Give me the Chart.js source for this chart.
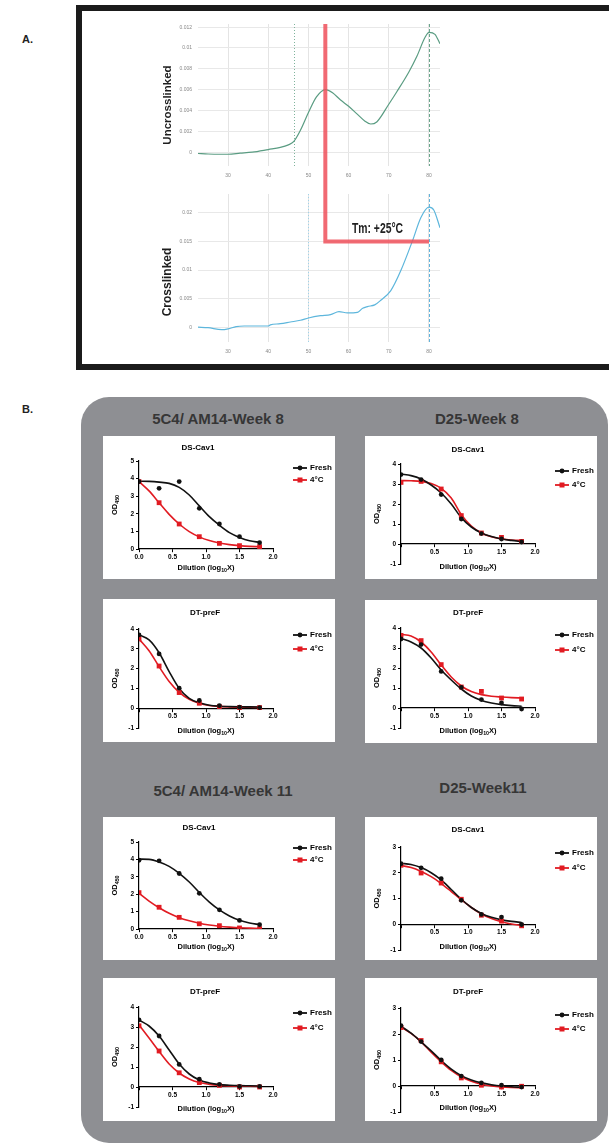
<!DOCTYPE html>
<html>
<head>
<meta charset="utf-8">
<script src="https://cdn.jsdelivr.net/npm/chart.js@4.4.0/dist/chart.umd.min.js"></script>
<style>
  body { margin: 0; width: 609px; height: 1144px; overflow: hidden; background: #fff; position: relative;
         font-family: "Liberation Sans", Arial, sans-serif; }
  .abs { position: absolute; white-space: nowrap; }
  .panel-letter { font-weight: bold; font-size: 11px; color: #222; }
  #frame { left: 76px; top: 5px; width: 600px; height: 353px; border: 6px solid #1b1b1b; }
  .rot { font-weight: bold; color: #1e1e1e; transform: translate(-50%, -50%) rotate(-90deg); }
  #tm { left: 352px; top: 221px; font-weight: bold; font-size: 14px; line-height: 14px; color: #222;
        transform: scaleX(0.74); transform-origin: left center; }
  #panelB { left: 81px; top: 397px; width: 527px; height: 746px; background: #8e8f93; border-radius: 28px; }
  .group { font-weight: bold; font-size: 15px; color: #363636; transform: translate(-50%, -50%); }
  .box { position: absolute; width: 232px; height: 143px; background: #fff; }
  canvas { display: block; }
</style>
</head>
<body>
<div class="abs panel-letter" style="left:22px;top:33px">A.</div>
<div class="abs" id="frame"></div>
<canvas class="abs" id="dscTop" width="300" height="170" style="left:150px;top:15px"></canvas>
<canvas class="abs" id="dscBottom" width="300" height="175" style="left:150px;top:185px"></canvas>
<div class="abs rot" style="left:167px;top:105px;font-size:11.5px">Uncrosslinked</div>
<div class="abs rot" style="left:167px;top:282px;font-size:12px">Crosslinked</div>
<div class="abs" id="tm">Tm: +25°C</div>

<div class="abs panel-letter" style="left:22px;top:403px">B.</div>
<div class="abs" id="panelB"></div>
<div class="abs group" style="left:218px;top:418px">5C4/ AM14-Week 8</div>
<div class="abs group" style="left:477px;top:418px">D25-Week 8</div>
<div class="abs group" style="left:223px;top:790px">5C4/ AM14-Week 11</div>
<div class="abs group" style="left:483px;top:787px">D25-Week11</div>

<script>
// ---- Panel A: DSC first derivative traces ----
const TEMP_TICKS = [30, 40, 50, 60, 70, 80];
const UNCROSS_TICKS = [0, 0.002, 0.004, 0.006, 0.008, 0.01, 0.012];
const CROSS_TICKS = [0, 0.005, 0.01, 0.015, 0.02];

const uncrossTemp = [22.5, 25, 28, 30, 33, 36, 40, 43, 45, 46.3, 48, 50, 52, 54.2, 56, 58, 60, 62, 64, 65.5, 67, 70, 72, 75, 77, 79, 80, 81.5, 82.75];
const uncrossDeriv = [-0.00013, -0.00018, -0.0002, -0.0002, -0.0001, 0, 0.00025, 0.00045, 0.0007, 0.001, 0.0021, 0.0038, 0.0053, 0.006, 0.0057, 0.005, 0.0044, 0.0037, 0.003, 0.0027, 0.0029, 0.0046, 0.0058, 0.0077, 0.0092, 0.011, 0.0115, 0.0113, 0.0104];

const crossTemp = [22.5, 25, 28.4, 30, 32, 34, 37.5, 40, 40.5, 43, 45.5, 48, 50, 53, 55.5, 57.6, 59.7, 62.2, 63.5, 64.7, 66.5, 68, 70.5, 73, 75.9, 78, 80, 81.2, 82.75];
const crossDeriv = [0, -0.0001, -0.00045, -0.0003, 0.0001, 0.0002, 0.0002, 0.0002, 0.0004, 0.0006, 0.0009, 0.0012, 0.0016, 0.002, 0.0022, 0.0027, 0.0025, 0.0026, 0.0033, 0.0036, 0.0039, 0.0047, 0.0064, 0.0099, 0.0151, 0.0192, 0.021, 0.0205, 0.0174];

const TM_UNCROSS = 54.2;
const TM_CROSS = 80;

// ---- Panel B: ELISA dilution curves (x = log10 dilution) ----
const DOSE_X = [0, 0.3, 0.6, 0.9, 1.2, 1.5, 1.8];
const CURVE_X = [0, 0.15, 0.3, 0.45, 0.6, 0.75, 0.9, 1.05, 1.2, 1.35, 1.5, 1.65, 1.8];
const LEGEND_NAMES = ['Fresh', '4°C'];

const mabW8DsFresh = [3.83, 3.45, 3.83, 2.31, 1.42, 0.70, 0.36];
const mabW8DsFreshFit = [3.85, 3.84, 3.8, 3.73, 3.5, 3.07, 2.45, 1.84, 1.35, 0.93, 0.66, 0.47, 0.38];
const mabW8DsCold = [3.83, 2.63, 1.42, 0.70, 0.32, 0.19, 0.13];
const mabW8DsColdFit = [3.83, 3.3, 2.63, 1.97, 1.42, 0.99, 0.69, 0.48, 0.34, 0.25, 0.19, 0.15, 0.13];

const d25W8DsFresh = [3.47, 3.22, 2.47, 1.25, 0.52, 0.25, 0.10];
const d25W8DsFreshFit = [3.5, 3.42, 3.25, 2.95, 2.55, 2.0, 1.32, 0.85, 0.55, 0.37, 0.25, 0.18, 0.12];
const d25W8DsCold = [3.08, 3.13, 2.75, 1.42, 0.55, 0.33, 0.13];
const d25W8DsColdFit = [3.17, 3.16, 3.13, 3.02, 2.78, 2.3, 1.47, 0.9, 0.55, 0.36, 0.26, 0.2, 0.17];

const mabW8DtFresh = [3.70, 2.74, 1.01, 0.39, 0.13, 0.05, 0.03];
const mabW8DtFreshFit = [3.7, 3.45, 2.8, 1.85, 1.0, 0.5, 0.27, 0.15, 0.1, 0.08, 0.07, 0.065, 0.06];
const mabW8DtCold = [3.5, 2.13, 0.79, 0.25, 0.08, 0.03, 0.03];
const mabW8DtColdFit = [3.5, 2.9, 2.1, 1.35, 0.8, 0.45, 0.25, 0.14, 0.09, 0.065, 0.05, 0.045, 0.04];

const d25W8DtFresh = [3.45, 3.17, 1.83, 1.03, 0.42, 0.25, -0.05];
const d25W8DtFreshFit = [3.48, 3.3, 3.0, 2.5, 1.9, 1.4, 0.95, 0.6, 0.38, 0.25, 0.17, 0.12, 0.09];
const d25W8DtCold = [3.63, 3.37, 2.17, 1.05, 0.83, 0.5, 0.45];
const d25W8DtColdFit = [3.68, 3.6, 3.3, 2.8, 2.15, 1.55, 1.1, 0.82, 0.67, 0.59, 0.55, 0.52, 0.5];

const mabW11DsFresh = [3.95, 3.92, 3.19, 2.05, 1.10, 0.49, 0.25];
const mabW11DsFreshFit = [4.02, 4.0, 3.85, 3.6, 3.2, 2.7, 2.1, 1.55, 1.1, 0.75, 0.5, 0.35, 0.25];
const mabW11DsCold = [2.09, 1.25, 0.67, 0.30, 0.19, 0.06, 0.02];
const mabW11DsColdFit = [2.05, 1.6, 1.22, 0.9, 0.65, 0.47, 0.33, 0.23, 0.16, 0.11, 0.07, 0.05, 0.03];

const d25W11DsFresh = [2.35, 2.19, 1.77, 0.93, 0.38, 0.28, -0.01];
const d25W11DsFreshFit = [2.37, 2.32, 2.2, 2.0, 1.72, 1.35, 0.97, 0.65, 0.42, 0.27, 0.17, 0.11, 0.07];
const d25W11DsCold = [2.29, 1.99, 1.6, 0.97, 0.35, 0.12, -0.06];
const d25W11DsColdFit = [2.28, 2.2, 2.05, 1.85, 1.58, 1.27, 0.95, 0.65, 0.4, 0.22, 0.1, 0.01, -0.05];

const mabW11DtFresh = [3.36, 2.55, 1.13, 0.39, 0.13, 0.03, 0.03];
const mabW11DtFreshFit = [3.35, 3.05, 2.55, 1.85, 1.15, 0.65, 0.35, 0.2, 0.12, 0.09, 0.07, 0.06, 0.05];
const mabW11DtCold = [3.06, 1.80, 0.71, 0.22, 0.08, 0.0, 0.0];
const mabW11DtColdFit = [3.1, 2.45, 1.78, 1.15, 0.7, 0.4, 0.22, 0.13, 0.08, 0.055, 0.04, 0.035, 0.03];

const d25W11DtFresh = [2.32, 1.71, 1.0, 0.38, 0.12, 0.03, -0.04];
const d25W11DtFreshFit = [2.3, 2.03, 1.7, 1.35, 0.98, 0.65, 0.4, 0.23, 0.12, 0.05, 0.0, -0.03, -0.05];
const d25W11DtCold = [2.25, 1.75, 0.93, 0.31, 0.03, -0.04, -0.01];
const d25W11DtColdFit = [2.27, 2.02, 1.7, 1.3, 0.93, 0.6, 0.35, 0.18, 0.07, 0.0, -0.04, -0.06, -0.07];

const FONT = '"Liberation Sans", Arial, sans-serif';
const BLACK = '#111111';
const RED = '#e11b22';
const TM_RED = 'rgba(238, 80, 90, 0.85)';

// --- DSC plugin: dashed marker lines + the Tm shift bracket ---
const dscMarks = {
    id: 'dscMarks',
    beforeDatasetsDraw(chart, args, opts) {
        const { ctx, chartArea: a, scales: { x } } = chart;
        (opts.marks || []).forEach(m => {
            const px = Math.round(x.getPixelForValue(m.x)) + 0.5;
            ctx.save();
            ctx.strokeStyle = m.color;
            ctx.lineWidth = 1;
            ctx.setLineDash(m.dash);
            ctx.beginPath();
            ctx.moveTo(px, a.top);
            ctx.lineTo(px, a.bottom);
            ctx.stroke();
            ctx.restore();
        });
    },
    afterDatasetsDraw(chart, args, opts) {
        const tm = opts.tm;
        if (!tm) return;
        const { ctx, chartArea: a, scales: { x, y } } = chart;
        const px = x.getPixelForValue(tm.from);
        ctx.save();
        ctx.strokeStyle = TM_RED;
        ctx.lineWidth = 4;
        ctx.lineJoin = 'miter';
        ctx.beginPath();
        if (tm.level === undefined) {
            // top chart: the bracket starts at the plot top and runs off the bottom edge
            ctx.moveTo(px, a.top);
            ctx.lineTo(px, chart.height);
        } else {
            const py = y.getPixelForValue(tm.level);
            ctx.moveTo(px, 0);
            ctx.lineTo(px, py);
            ctx.lineTo(x.getPixelForValue(tm.to), py);
        }
        ctx.stroke();
        ctx.restore();
    }
};

const dscChart = (canvasId, temps, values, color, yTicks, yMin, yMax, xAxisH, marks, tm) => {
    const tickFont = { family: FONT, size: 5 };
    new Chart(document.getElementById(canvasId), {
        type: 'line',
        data: {
            datasets: [{
                data: temps.map((t, i) => ({ x: t, y: values[i] })),
                borderColor: color,
                borderWidth: 1.2,
                pointRadius: 0,
                cubicInterpolationMode: 'monotone'
            }]
        },
        options: {
            responsive: false,
            animation: false,
            devicePixelRatio: 1,
            events: [],
            layout: { padding: { left: 0, right: 10, top: 8, bottom: 0 } },
            plugins: { legend: { display: false }, tooltip: { enabled: false }, dscMarks: { marks, tm } },
            scales: {
                x: {
                    type: 'linear', min: 22.5, max: 82.75,
                    afterBuildTicks: s => { s.ticks = TEMP_TICKS.map(v => ({ value: v })); },
                    afterFit: s => { s.height = xAxisH; },
                    grid: { color: '#e4e4e4', lineWidth: 1, drawTicks: false },
                    border: { display: false },
                    ticks: { font: tickFont, color: '#888', padding: 7, maxRotation: 0 }
                },
                y: {
                    type: 'linear', min: yMin, max: yMax,
                    afterBuildTicks: s => { s.ticks = yTicks.map(v => ({ value: v })); },
                    afterFit: s => { s.width = 48; },
                    grid: { color: '#e8e8e8', lineWidth: 1, drawTicks: false },
                    border: { display: false },
                    ticks: { font: tickFont, color: '#888', padding: 6, callback: v => String(+v.toFixed(4)) }
                }
            }
        },
        plugins: [dscMarks]
    });
};

dscChart('dscTop', uncrossTemp, uncrossDeriv, '#5a9c82', UNCROSS_TICKS, -0.00133, 0.0123, 19,
    [{ x: 46.3, color: '#7fb39c', dash: [1, 2] }, { x: 80, color: '#6aa68c', dash: [3, 2] }],
    { from: TM_UNCROSS });
dscChart('dscBottom', crossTemp, crossDeriv, '#5db6dc', CROSS_TICKS, -0.0026, 0.0233, 18,
    [{ x: 50, color: '#9fd3ea', dash: [1, 2] }, { x: 80, color: '#62b4dc', dash: [3, 2] }],
    { from: TM_UNCROSS, to: TM_CROSS, level: 0.015 });

// --- GraphPad style text: title, axis titles with subscripts, legend ---
const drawRuns = (ctx, runs, cx, cy, size) => {
    const normal = `bold ${size}px ${FONT}`;
    const small = `bold ${size * 0.7}px ${FONT}`;
    let total = 0;
    runs.forEach(r => { ctx.font = r.sub ? small : normal; total += ctx.measureText(r.t).width; });
    let xPos = cx - total / 2;
    ctx.textAlign = 'left';
    ctx.textBaseline = 'middle';
    runs.forEach(r => {
        ctx.font = r.sub ? small : normal;
        ctx.fillText(r.t, xPos, cy + (r.sub ? size * 0.3 : 0));
        xPos += ctx.measureText(r.t).width;
    });
};

const gpText = {
    id: 'gpText',
    afterDraw(chart, args, o) {
        const { ctx, chartArea: a, scales: { y } } = chart;
        ctx.save();
        ctx.fillStyle = '#000';
        ctx.textAlign = 'center';
        ctx.textBaseline = 'middle';
        ctx.font = `bold 8px ${FONT}`;
        ctx.fillText(o.title, o.titleX, o.titleY);

        drawRuns(ctx, [{ t: 'Dilution (log' }, { t: '10', sub: true }, { t: 'X)' }],
            (a.left + a.right) / 2, y.getPixelForValue(0) + o.xLabelDy, 7.5);

        ctx.save();
        ctx.translate(12, (a.top + a.bottom) / 2);
        ctx.rotate(-Math.PI / 2);
        drawRuns(ctx, [{ t: 'OD' }, { t: '450', sub: true }], 0, 0, 7.5);
        ctx.restore();

        // legend: line with marker, then name
        chart.data.datasets.slice(0, 2).forEach((ds, i) => {
            const ly = o.legendTop + i * o.legendGap;
            ctx.strokeStyle = ds.backgroundColor;
            ctx.fillStyle = ds.backgroundColor;
            ctx.lineWidth = 1.8;
            ctx.beginPath();
            ctx.moveTo(190, ly);
            ctx.lineTo(204, ly);
            ctx.stroke();
            if (ds.pointStyle === 'rect') {
                ctx.fillRect(194.5, ly - 2.5, 5, 5);
            } else {
                ctx.beginPath();
                ctx.arc(197, ly, 2.4, 0, Math.PI * 2);
                ctx.fill();
            }
            ctx.fillStyle = '#000';
            ctx.font = `bold 8px ${FONT}`;
            ctx.textAlign = 'left';
            ctx.fillText(LEGEND_NAMES[i], 207, ly);
        });
        ctx.restore();
    }
};

const BOX_W = 232, BOX_H = 143;

const dilutionChart = (box) => {
    const wrap = document.createElement('div');
    wrap.className = 'box';
    wrap.style.left = box.left + 'px';
    wrap.style.top = box.top + 'px';
    const cv = document.createElement('canvas');
    cv.width = BOX_W;
    cv.height = BOX_H;
    wrap.appendChild(cv);
    document.body.appendChild(wrap);

    const pts = arr => DOSE_X.map((x, i) => ({ x, y: arr[i] }));
    const fit = arr => CURVE_X.map((x, i) => ({ x, y: arr[i] }));
    const tickFont = { family: FONT, size: 6.5, weight: 'bold' };
    const axisGrid = { display: true, drawOnChartArea: false, drawTicks: true, tickLength: 3, color: '#000', lineWidth: 1 };
    const axisBorder = { display: true, color: '#000', width: 1.2 };

    new Chart(cv, {
        type: 'line',
        data: {
            datasets: [
                { label: LEGEND_NAMES[0], data: pts(box.fresh), showLine: false, pointStyle: 'circle', pointRadius: 2.4,
                  pointBorderWidth: 0, backgroundColor: BLACK, borderColor: BLACK },
                { label: LEGEND_NAMES[1], data: pts(box.cold), showLine: false, pointStyle: 'rect', pointRadius: 3.4,
                  pointBorderWidth: 0, backgroundColor: RED, borderColor: RED },
                { data: fit(box.freshFit), borderColor: BLACK, borderWidth: 1.6, pointRadius: 0, cubicInterpolationMode: 'monotone' },
                { data: fit(box.coldFit), borderColor: RED, borderWidth: 1.6, pointRadius: 0, cubicInterpolationMode: 'monotone' }
            ]
        },
        options: {
            responsive: false,
            animation: false,
            devicePixelRatio: 1,
            events: [],
            layout: { padding: { left: 0, top: box.plotTop, right: BOX_W - 170, bottom: BOX_H - box.plotBottom } },
            plugins: {
                legend: { display: false },
                tooltip: { enabled: false },
                gpText: { title: box.title, titleX: box.titleX, titleY: box.titleY, xLabelDy: box.xLabelDy,
                          legendTop: box.legendTop, legendGap: box.legendGap }
            },
            scales: {
                x: {
                    type: 'linear', min: 0, max: 2, position: { y: 0 },
                    afterFit: s => { s.height = 0; },
                    grid: axisGrid, border: axisBorder,
                    ticks: { stepSize: 0.5, font: tickFont, color: '#000', padding: 1, maxRotation: 0, autoSkip: false,
                             callback: v => (box.yMin < 0 && v === 0) ? '' : v.toFixed(1) }
                },
                y: {
                    type: 'linear', min: box.yMin, max: box.yMax,
                    afterFit: s => { s.width = 36; },
                    grid: axisGrid, border: axisBorder,
                    ticks: { stepSize: 1, font: tickFont, color: '#000', padding: 2 }
                }
            }
        },
        plugins: [gpText]
    });
};

[
    { left: 103, top: 436, title: 'DS-Cav1', titleX: 95, titleY: 12, plotTop: 25, plotBottom: 113, yMin: 0, yMax: 5,
      legendTop: 32, legendGap: 12, xLabelDy: 19,
      fresh: mabW8DsFresh, freshFit: mabW8DsFreshFit, cold: mabW8DsCold, coldFit: mabW8DsColdFit },
    { left: 365, top: 436, title: 'DS-Cav1', titleX: 103, titleY: 14, plotTop: 28, plotBottom: 128, yMin: -1, yMax: 4,
      legendTop: 35, legendGap: 14, xLabelDy: 23,
      fresh: d25W8DsFresh, freshFit: d25W8DsFreshFit, cold: d25W8DsCold, coldFit: d25W8DsColdFit },
    { left: 103, top: 599, title: 'DT-preF', titleX: 102, titleY: 14, plotTop: 30, plotBottom: 129, yMin: -1, yMax: 4,
      legendTop: 36, legendGap: 14, xLabelDy: 23,
      fresh: mabW8DtFresh, freshFit: mabW8DtFreshFit, cold: mabW8DtCold, coldFit: mabW8DtColdFit },
    { left: 365, top: 600, title: 'DT-preF', titleX: 103, titleY: 13, plotTop: 28, plotBottom: 128, yMin: -1, yMax: 4,
      legendTop: 35, legendGap: 15, xLabelDy: 23,
      fresh: d25W8DtFresh, freshFit: d25W8DtFreshFit, cold: d25W8DtCold, coldFit: d25W8DtColdFit },
    { left: 103, top: 817, title: 'DS-Cav1', titleX: 96, titleY: 11, plotTop: 25, plotBottom: 112, yMin: 0, yMax: 5,
      legendTop: 31, legendGap: 12, xLabelDy: 18,
      fresh: mabW11DsFresh, freshFit: mabW11DsFreshFit, cold: mabW11DsCold, coldFit: mabW11DsColdFit },
    { left: 365, top: 817, title: 'DS-Cav1', titleX: 103, titleY: 13, plotTop: 30, plotBottom: 133, yMin: -1, yMax: 3,
      legendTop: 36, legendGap: 15, xLabelDy: 23,
      fresh: d25W11DsFresh, freshFit: d25W11DsFreshFit, cold: d25W11DsCold, coldFit: d25W11DsColdFit },
    { left: 103, top: 978, title: 'DT-preF', titleX: 102, titleY: 14, plotTop: 29, plotBottom: 129, yMin: -1, yMax: 4,
      legendTop: 35, legendGap: 15, xLabelDy: 22,
      fresh: mabW11DtFresh, freshFit: mabW11DtFreshFit, cold: mabW11DtCold, coldFit: mabW11DtColdFit },
    { left: 365, top: 978, title: 'DT-preF', titleX: 103, titleY: 14, plotTop: 30, plotBottom: 134, yMin: -1, yMax: 3,
      legendTop: 37, legendGap: 14, xLabelDy: 22,
      fresh: d25W11DtFresh, freshFit: d25W11DtFreshFit, cold: d25W11DtCold, coldFit: d25W11DtColdFit }
].forEach(dilutionChart);
</script>
</body>
</html>
